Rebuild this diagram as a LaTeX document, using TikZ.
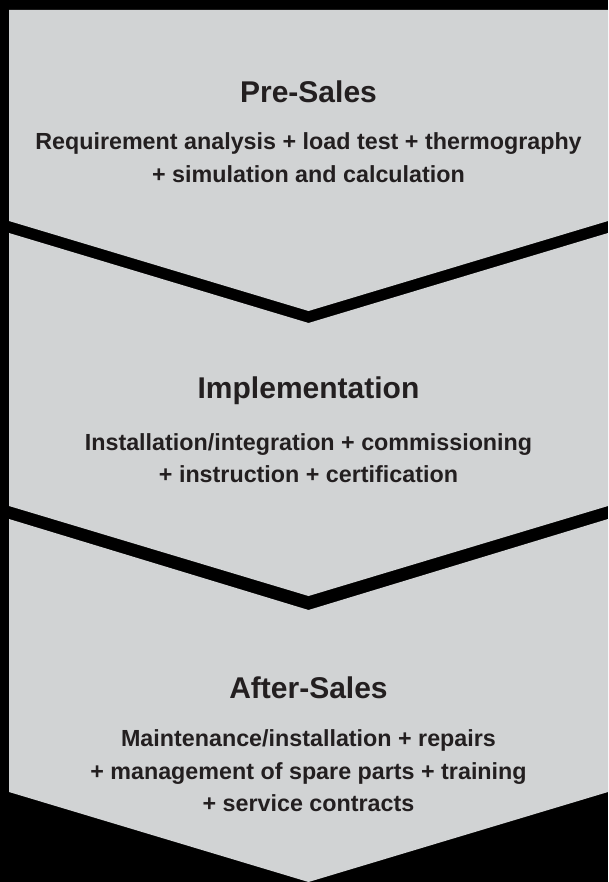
\documentclass[tikz,border=0pt]{standalone}
\usepackage{fontspec}
\setmainfont{Liberation Sans}
\usetikzlibrary{positioning}
\definecolor{panelgray}{RGB}{209,211,212}
\definecolor{textdark}{RGB}{35,31,32}
\tikzset{
  panel/.style     = {fill=panelgray, draw=none},
  stagetitle/.style = {font=\fontsize{30}{34}\selectfont\bfseries, text=textdark, inner sep=0pt},
  stagetext/.style  = {font=\fontsize{23.3}{32.5}\selectfont\bfseries, text=textdark,
                       align=center, inner sep=0pt},
}

\begin{document}
\begin{tikzpicture}[x=1pt,y=-1pt]
% background and the three chevron panels
\fill[black] (0,0) rectangle (608,882);
\fill[panel] (9,10) -- (608,10) -- (608,221) -- (308.5,311) -- (9,221) -- cycle;
\fill[panel] (9,233) -- (308.5,323) -- (608,233) -- (608,506) -- (308.5,596) -- (9,506) -- cycle;
\fill[panel] (9,519) -- (308.5,610) -- (608,519) -- (608,792) -- (308.5,882) -- (9,792) -- cycle;

\node[stagetitle] (pre) at (308.5,92) {Pre-Sales};
\node[stagetext] (preText) at (308.5,157.5)
  {Requirement analysis + load test + thermography\\+ simulation and calculation};

\node[stagetitle] (impl) at (308.5,391) {Implementation};
\node[stagetext] (implText) at (308.5,458)
  {Installation/integration + commissioning\\+ instruction + certification};

\node[stagetitle] (after) at (308.5,688) {After-Sales};
\node[stagetext] (afterText) at (308.5,771)
  {Maintenance/installation + repairs\\+ management of spare parts + training\\+ service contracts};
\end{tikzpicture}
\end{document}
